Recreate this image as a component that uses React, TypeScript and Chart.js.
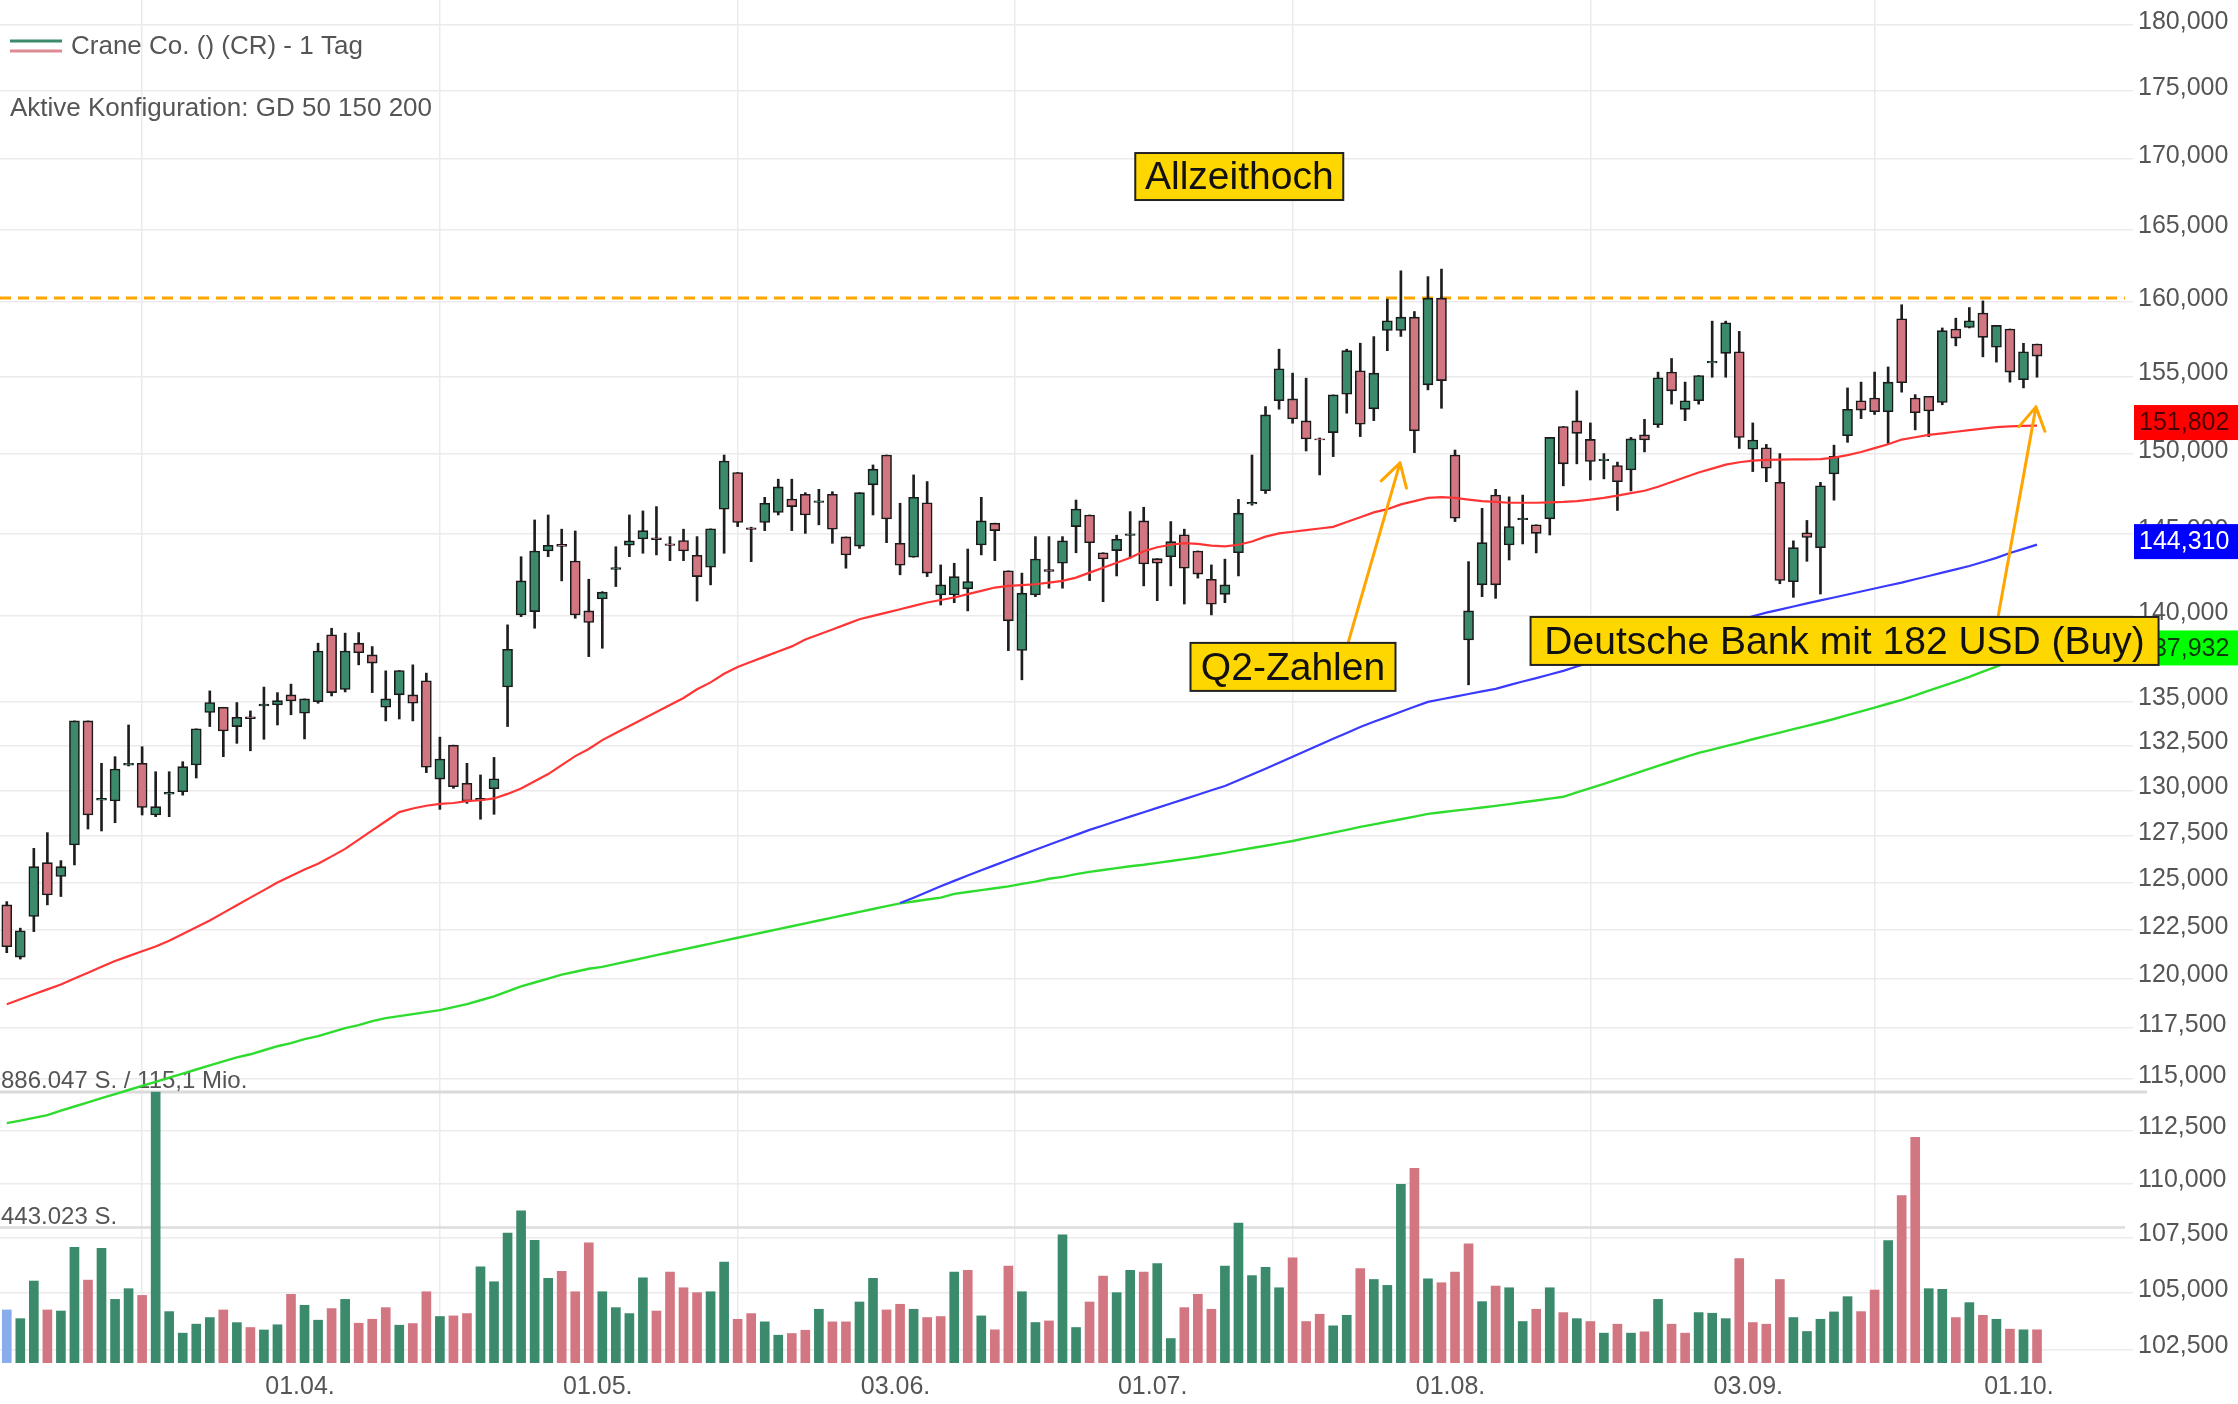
import React, { useEffect, useRef } from 'react';
import { Chart, registerables } from 'chart.js';

Chart.register(...registerables);

const FONT = '"Liberation Sans", Arial, Helvetica, sans-serif';

// ---------- DATA ----------
const opens = [
  123.82, 121.10, 123.21, 126.06, 125.32, 127.01, 133.89, 129.45, 129.41, 131.40,
  131.50, 128.64, 129.78, 129.92, 131.41, 134.37, 134.67, 133.57, 134.12, 134.75,
  134.80, 135.38, 134.33, 134.99, 138.88, 135.69, 138.39, 137.70, 134.67, 135.38,
  135.38, 136.19, 130.62, 132.52, 130.39, 129.45, 130.09, 135.84, 140.06, 140.26,
  143.92, 144.32, 143.31, 140.30, 141.01, 142.80, 144.27, 144.66, 144.72, 144.36,
  144.56, 143.66, 142.93, 146.50, 148.80, 145.35, 145.67, 146.29, 147.13, 147.43,
  146.92, 147.43, 144.78, 144.22, 148.02, 149.91, 144.39, 143.54, 146.90, 141.25,
  141.25, 141.62, 144.29, 145.63, 142.71, 137.96, 141.25, 142.78, 143.17, 145.42,
  146.14, 143.81, 143.94, 144.88, 145.77, 143.45, 143.57, 144.91, 143.92, 142.20,
  141.29, 143.81, 146.82, 147.65, 153.41, 153.53, 152.10, 150.95, 151.35, 153.84,
  155.38, 152.88, 158.06, 158.06, 158.96, 154.45, 160.25, 149.91, 138.58, 141.86,
  147.38, 144.29, 145.84, 145.53, 145.90, 151.74, 152.10, 150.91, 149.55, 149.24,
  148.96, 151.20, 151.85, 155.29, 152.85, 153.41, 155.90, 156.53, 156.64, 150.28,
  150.37, 148.18, 142.05, 145.04, 144.12, 148.71, 151.15, 153.41, 153.59, 152.70,
  158.85, 153.59, 153.70, 153.30, 158.16, 158.26, 159.24, 156.94, 158.16, 154.79,
  157.15,
];
const highs = [
  123.99, 122.60, 126.83, 127.68, 126.17, 133.89, 133.89, 131.50, 131.87, 133.66,
  132.43, 131.03, 131.03, 131.59, 133.44, 135.61, 134.67, 134.94, 134.46, 135.83,
  135.51, 136.00, 135.15, 138.39, 139.27, 138.98, 139.01, 138.19, 136.77, 136.79,
  137.12, 136.64, 132.97, 132.52, 131.50, 130.85, 131.83, 139.47, 143.57, 145.83,
  146.14, 145.26, 145.15, 142.20, 141.45, 144.18, 146.14, 146.39, 146.66, 144.80,
  145.26, 144.80, 145.28, 149.91, 148.80, 145.38, 147.24, 148.38, 148.38, 147.53,
  147.74, 147.59, 144.78, 147.53, 149.28, 149.91, 146.87, 148.65, 148.23, 143.07,
  143.17, 144.04, 147.24, 145.63, 142.71, 142.57, 144.80, 144.80, 144.80, 147.07,
  146.14, 143.81, 144.89, 146.35, 146.62, 143.45, 145.73, 145.26, 143.92, 143.07,
  143.42, 147.11, 149.91, 153.03, 156.81, 155.22, 154.89, 151.00, 153.79, 156.81,
  157.21, 157.65, 160.18, 162.12, 159.34, 161.72, 162.24, 150.23, 143.27, 146.55,
  147.74, 147.27, 147.38, 145.53, 151.04, 151.74, 154.06, 151.97, 150.00, 149.46,
  151.04, 152.20, 155.29, 156.19, 154.63, 155.06, 158.69, 158.69, 158.00, 151.97,
  150.59, 150.00, 144.54, 145.80, 148.18, 150.54, 154.25, 154.63, 155.29, 155.63,
  159.80, 153.81, 153.70, 158.23, 158.89, 159.61, 160.06, 158.40, 158.16, 157.20,
  157.15,
];
const lows = [
  121.33, 121.00, 122.42, 123.82, 124.26, 125.94, 127.88, 127.77, 128.22, 131.35,
  128.64, 128.55, 128.55, 129.73, 130.68, 133.57, 131.87, 132.62, 132.20, 132.85,
  133.66, 134.24, 132.87, 134.90, 135.32, 135.55, 137.12, 135.51, 133.89, 134.00,
  133.89, 130.98, 128.95, 130.11, 129.28, 128.41, 128.68, 133.57, 139.96, 139.27,
  143.57, 142.10, 139.86, 137.60, 138.09, 141.76, 143.57, 143.78, 143.68, 143.33,
  143.33, 140.89, 141.86, 143.78, 145.42, 143.27, 145.17, 146.14, 145.17, 145.00,
  145.53, 144.39, 142.87, 144.08, 146.14, 144.43, 142.47, 143.54, 142.36, 140.65,
  140.79, 140.30, 143.68, 143.33, 137.95, 136.25, 141.15, 141.66, 141.66, 143.81,
  142.12, 140.85, 142.40, 143.48, 141.80, 140.91, 141.80, 140.71, 142.27, 140.06,
  140.79, 142.40, 146.75, 147.48, 152.86, 151.95, 150.17, 148.65, 149.81, 152.60,
  151.09, 152.12, 156.71, 157.66, 150.06, 154.12, 152.92, 145.73, 135.96, 141.15,
  141.05, 143.37, 144.35, 143.80, 144.90, 147.96, 149.35, 148.33, 148.40, 146.42,
  147.64, 150.11, 151.68, 153.19, 152.12, 153.19, 154.95, 154.95, 150.33, 148.86,
  148.22, 141.93, 141.11, 143.29, 141.31, 147.06, 150.72, 152.25, 152.52, 150.65,
  153.97, 151.52, 151.09, 153.15, 157.03, 158.23, 156.30, 155.95, 154.63, 154.25,
  154.95,
];
const closes = [
  121.64, 122.46, 125.85, 124.34, 125.85, 133.89, 128.64, 129.55, 131.18, 131.50,
  129.05, 129.10, 129.88, 131.31, 133.44, 134.94, 133.32, 134.10, 134.02, 134.85,
  135.05, 135.03, 135.15, 137.93, 135.51, 137.93, 137.83, 137.22, 135.15, 136.79,
  134.90, 131.28, 131.74, 130.20, 129.41, 129.55, 130.64, 138.03, 142.10, 143.92,
  144.27, 144.20, 140.06, 139.61, 141.42, 142.90, 144.54, 145.17, 144.62, 144.26,
  143.92, 142.36, 145.28, 149.53, 145.67, 145.25, 146.87, 147.89, 146.66, 146.14,
  147.02, 145.26, 143.68, 147.53, 149.01, 145.89, 143.05, 147.24, 142.57, 141.86,
  142.36, 142.06, 145.77, 145.17, 139.71, 141.36, 143.43, 142.68, 144.54, 146.51,
  144.43, 143.43, 144.64, 144.98, 143.13, 143.17, 144.49, 142.87, 142.51, 140.70,
  141.86, 146.25, 146.92, 152.49, 155.51, 152.23, 150.94, 150.88, 153.79, 156.71,
  151.89, 155.22, 158.71, 158.96, 151.46, 160.25, 154.73, 145.94, 140.30, 144.43,
  141.86, 145.42, 145.94, 145.00, 151.04, 149.35, 151.30, 149.50, 149.65, 148.22,
  150.94, 150.87, 154.91, 154.06, 153.41, 155.06, 156.00, 158.58, 151.03, 150.87,
  149.07, 142.13, 144.12, 144.75, 147.96, 149.83, 152.85, 152.80, 152.70, 154.63,
  154.59, 152.63, 152.74, 158.05, 157.55, 158.71, 157.60, 158.40, 155.29, 156.64,
  156.35,
];
const volumes = [
  173500, 145000, 268000, 173500, 170000, 378000, 271000, 375000, 208000, 243000,
  221000, 886047, 168000, 97600, 127000, 148600, 173500, 132000, 116000, 108000,
  125000, 224500, 188700, 140000, 178000, 208000, 130000, 143000, 181000, 123600,
  129000, 233000, 152000, 154000, 161600, 314500, 265700, 425000, 497800, 401000,
  276500, 300000, 233000, 392600, 233000, 181000, 161600, 278700, 170000, 297000,
  246000, 230000, 233000, 329700, 143000, 161600, 134500, 91000, 96500, 107000,
  175700, 134500, 134500, 199500, 276500, 173500, 192000, 175700, 148600, 152000,
  297000, 303000, 154000, 108500, 316700, 233000, 132300, 137600, 419000, 116000,
  199500, 284000, 230000, 302600, 297000, 325000, 80000, 181000, 224500, 175700,
  316700, 457700, 286000, 313000, 246000, 343800, 135600, 159400, 121500, 156000,
  309000, 273000, 253800, 584500, 636600, 275500, 262400, 297000, 390000, 200600,
  251600, 246000, 135600, 175700, 246000, 164800, 145000, 135600, 97600, 126900,
  97600, 102000, 208000, 126900, 97600, 164800, 162700, 145000, 341600, 132300,
  126900, 273000, 148600, 103000, 143000, 167000, 216900, 168000, 238600, 400000,
  547700, 737500, 243000, 240800, 148600, 197400, 156000, 143000, 110600, 108500,
  108500,
];
// GD 50 (red)
const ma50 = [
  118.7, 118.95, 119.2, 119.45, 119.7, 120.0, 120.3, 120.6, 120.9, 121.15,
  121.4, 121.65, 121.95, 122.3, 122.65, 123.0, 123.4, 123.8, 124.2, 124.6,
  125.0, 125.35, 125.7, 126.0, 126.4, 126.8, 127.3, 127.8, 128.3, 128.8,
  129.0, 129.15, 129.25, 129.3, 129.4, 129.45, 129.55, 129.8, 130.1, 130.5,
  130.9, 131.4, 131.9, 132.3, 132.8, 133.2, 133.6, 134.0, 134.4, 134.8,
  135.2, 135.7, 136.1, 136.6, 137.0, 137.3, 137.6, 137.9, 138.2, 138.6,
  138.9, 139.2, 139.5, 139.8, 140.0, 140.2, 140.4, 140.6, 140.8, 140.95,
  141.1, 141.3, 141.5, 141.7, 141.8, 141.85, 141.9, 142.0, 142.1, 142.3,
  142.6, 142.9, 143.2, 143.5, 143.9, 144.15, 144.3, 144.4, 144.35, 144.25,
  144.2, 144.3, 144.5, 144.8, 145.0, 145.1, 145.2, 145.3, 145.4, 145.7,
  146.0, 146.3, 146.5, 146.8, 147.0, 147.2, 147.25, 147.2, 147.1, 147.0,
  146.95, 146.9, 146.9, 146.9, 146.92, 146.95, 147.0, 147.1, 147.2, 147.35,
  147.5, 147.65, 147.9, 148.2, 148.5, 148.8, 149.05, 149.3, 149.45, 149.55,
  149.6, 149.62, 149.63, 149.63, 149.65, 149.75, 149.9, 150.1, 150.35, 150.6,
  150.9, 151.05, 151.2, 151.3, 151.4, 151.5, 151.6, 151.7, 151.75, 151.78,
  151.802,
];
// GD 150 (blue)
const ma150 = [
  null, null, null, null, null, null, null, null, null, null,
  null, null, null, null, null, null, null, null, null, null,
  null, null, null, null, null, null, null, null, null, null,
  null, null, null, null, null, null, null, null, null, null,
  null, null, null, null, null, null, null, null, null, null,
  null, null, null, null, null, null, null, null, null, null,
  null, null, null, null, null, null, 123.92, 124.2, 124.5, 124.8,
  125.09, 125.37, 125.65, 125.93, 126.2, 126.48, 126.75, 127.02, 127.29, 127.56,
  127.83, 128.07, 128.31, 128.55, 128.79, 129.03, 129.27, 129.51, 129.75, 130.0,
  130.24, 130.56, 130.88, 131.2, 131.53, 131.86, 132.2, 132.54, 132.88, 133.21,
  133.55, 133.84, 134.12, 134.41, 134.7, 134.98, 135.13, 135.28, 135.43, 135.58,
  135.73, 135.94, 136.15, 136.35, 136.56, 136.77, 137.02, 137.26, 137.51, 137.75,
  138.0, 138.21, 138.42, 138.64, 138.85, 139.06, 139.29, 139.52, 139.75, 139.98,
  140.2, 140.38, 140.56, 140.75, 140.93, 141.1, 141.28, 141.46, 141.64, 141.82,
  142.0, 142.2, 142.4, 142.6, 142.8, 143.0, 143.25, 143.5, 143.8, 144.05,
  144.31,
];
// GD 200 (green)
const ma200 = [
  112.85, 112.97, 113.1, 113.23, 113.45, 113.65, 113.85, 114.05, 114.25, 114.45,
  114.65, 114.85, 115.05, 115.25, 115.45, 115.65, 115.85, 116.05, 116.2, 116.4,
  116.6, 116.75, 116.95, 117.1, 117.3, 117.5, 117.65, 117.85, 118.0, 118.1,
  118.2, 118.3, 118.4, 118.55, 118.7, 118.9, 119.1, 119.35, 119.6, 119.8,
  120.0, 120.2, 120.35, 120.5, 120.6, 120.75, 120.9, 121.05, 121.2, 121.35,
  121.5, 121.65, 121.8, 121.95, 122.1, 122.25, 122.4, 122.55, 122.7, 122.85,
  123.0, 123.15, 123.3, 123.45, 123.6, 123.75, 123.9, 124.0, 124.1, 124.2,
  124.4, 124.5, 124.6, 124.7, 124.8, 124.93, 125.05, 125.2, 125.3, 125.45,
  125.57, 125.67, 125.77, 125.87, 125.95, 126.05, 126.15, 126.25, 126.35, 126.47,
  126.59, 126.72, 126.85, 126.97, 127.1, 127.23, 127.38, 127.53, 127.68, 127.83,
  127.99, 128.13, 128.27, 128.41, 128.55, 128.7, 128.79, 128.88, 128.96, 129.05,
  129.14, 129.24, 129.34, 129.44, 129.54, 129.64, 129.88, 130.12, 130.36, 130.6,
  130.85, 131.1, 131.35, 131.6, 131.84, 132.08, 132.27, 132.46, 132.65, 132.85,
  133.04, 133.23, 133.42, 133.61, 133.8, 134.0, 134.22, 134.43, 134.65, 134.87,
  135.09, 135.35, 135.62, 135.88, 136.15, 136.42, 136.72, 137.02, 137.32, 137.62,
  137.932,
];

const tickIndex = [21, 43, 65, 84, 106, 128, 148];
const tickLabels = ['01.04.', '01.05.', '03.06.', '01.07.', '01.08.', '03.09.', '01.10.'];
const priceTicks = [180, 175, 170, 165, 160, 155, 150, 145, 140, 135, 132.5, 130, 127.5, 125, 122.5, 120, 117.5, 115, 112.5, 110, 107.5, 105, 102.5];
const athLevel = 160.25;
const volumeMax = 886047;
const volumeMid = 443023;
const volumeTopLabel = '886.047 S. / 115,1 Mio.';
const volumeMidLabel = '443.023 S.';
const titleText = 'Crane Co. () (CR) - 1 Tag';
const configText = 'Aktive Konfiguration: GD 50 150 200';

const annotations = [
  { text: 'Allzeithoch', x: 91.06, y: 168.75, w: 208, h: 47 },
  { text: 'Q2-Zahlen', x: 95.03, y: 137.0, w: 205, h: 48 },
  { text: 'Deutsche Bank mit 182 USD (Buy)', x: 135.78, y: 138.52, w: 628, h: 48 },
];
const arrows = [
  { x1: 99.1, y1: 138.41, x2: 102.94, y2: 149.41 },
  { x1: 147.12, y1: 139.94, x2: 149.92, y2: 153.01 },
];

// ---------- LAYOUT / STYLE ----------
const W = 2238;
const H = 1404;
const AXIS_W = 113;
const XAXIS_H = 41;
const PRICE_MIN = 101.91;
const PRICE_MAX = 181.9;
const VOLUME_SHARE = 271 / 1363;
const X_MIN = -0.5;
const X_MAX = 156.5;

const GREEN = '#3b8a6b';
const RED = '#d27782';
const BLUE_VOL = '#88adec';
const GRID = '#ebebeb';
const TEXT = '#555555';

const fmt = (v: number) => v.toFixed(3).replace('.', ',');

const overlayPlugin = {
  id: 'overlay',
  beforeDatasetsDraw(chart: any) {
    const { ctx, chartArea, scales } = chart;
    const yv = scales.yv;
    const ySep = yv.getPixelForValue(volumeMax);
    const yMid = yv.getPixelForValue(volumeMid);
    ctx.save();
    ctx.strokeStyle = '#dadada';
    ctx.lineWidth = 3;
    ctx.beginPath();
    ctx.moveTo(chartArea.left, ySep);
    ctx.lineTo(chartArea.right + 22, ySep);
    ctx.stroke();
    ctx.strokeStyle = '#dcdcdc';
    ctx.lineWidth = 2.5;
    ctx.beginPath();
    ctx.moveTo(chartArea.left, yMid);
    ctx.lineTo(chartArea.right, yMid);
    ctx.stroke();
    ctx.fillStyle = TEXT;
    ctx.font = `24px ${FONT}`;
    ctx.textAlign = 'left';
    ctx.textBaseline = 'alphabetic';
    ctx.fillText(volumeTopLabel, 1, ySep - 4);
    ctx.fillText(volumeMidLabel, 1, yMid - 4);
    ctx.restore();
  },
  afterDraw(chart: any) {
    const { ctx, chartArea, scales } = chart;
    const sx = (v: number) => scales.x.getPixelForValue(v);
    const sy = (v: number) => scales.y.getPixelForValue(v);
    ctx.save();

    // value tags on the price axis
    const last = closes.length - 1;
    const tags = [
      { v: ma50[last] as number, bg: '#ff0000', fg: '#4a0000' },
      { v: ma150[last] as number, bg: '#0000ff', fg: '#ffffff' },
      { v: ma200[last] as number, bg: '#00ff00', fg: '#0a3a0a' },
    ];
    ctx.font = `25px ${FONT}`;
    ctx.textAlign = 'left';
    ctx.textBaseline = 'middle';
    for (const t of tags) {
      const y = sy(t.v) - 3;
      const x0 = chartArea.right + 9;
      ctx.fillStyle = t.bg;
      ctx.fillRect(x0, y - 17.5, W - x0, 35);
      ctx.fillStyle = t.fg;
      ctx.fillText(fmt(t.v), x0 + 5, y + 1);
    }

    // arrows
    ctx.strokeStyle = '#ffa500';
    ctx.lineWidth = 3;
    ctx.lineCap = 'round';
    for (const a of arrows) {
      const x1 = sx(a.x1), y1 = sy(a.y1), x2 = sx(a.x2), y2 = sy(a.y2);
      ctx.beginPath();
      ctx.moveTo(x1, y1);
      ctx.lineTo(x2, y2);
      const ang = Math.atan2(y2 - y1, x2 - x1) + Math.PI;
      for (const s of [-1, 1]) {
        const b = ang + s * 0.53;
        ctx.moveTo(x2, y2);
        ctx.lineTo(x2 + 26 * Math.cos(b), y2 + 26 * Math.sin(b));
      }
      ctx.stroke();
    }

    // annotation boxes
    ctx.lineCap = 'butt';
    for (const a of annotations) {
      const cx = sx(a.x), cy = sy(a.y);
      ctx.fillStyle = '#ffd700';
      ctx.fillRect(cx - a.w / 2, cy - a.h / 2, a.w, a.h);
      ctx.strokeStyle = '#222';
      ctx.lineWidth = 2;
      ctx.strokeRect(cx - a.w / 2, cy - a.h / 2, a.w, a.h);
      ctx.fillStyle = '#111';
      ctx.font = `39px ${FONT}`;
      ctx.textAlign = 'center';
      ctx.textBaseline = 'middle';
      ctx.fillText(a.text, cx, cy + 2);
    }

    // header legend
    ctx.lineWidth = 3;
    ctx.strokeStyle = GREEN;
    ctx.beginPath();
    ctx.moveTo(10, 41);
    ctx.lineTo(62, 41);
    ctx.stroke();
    ctx.strokeStyle = '#dd8c96';
    ctx.beginPath();
    ctx.moveTo(10, 51);
    ctx.lineTo(62, 51);
    ctx.stroke();
    ctx.fillStyle = TEXT;
    ctx.font = `26px ${FONT}`;
    ctx.textAlign = 'left';
    ctx.textBaseline = 'alphabetic';
    ctx.fillText(titleText, 71, 54);
    ctx.fillText(configText, 10, 116);
    ctx.restore();
  },
};

export default function App() {
  const ref = useRef<HTMLCanvasElement>(null);

  useEffect(() => {
    const canvas = ref.current;
    if (!canvas) return;
    const idx = closes.map((_, i) => i);
    const bodyColors = idx.map((i) => (closes[i] >= opens[i] ? GREEN : RED));
    const volColors = idx.map((i) => (i === 0 ? BLUE_VOL : closes[i] >= closes[i - 1] ? GREEN : RED));

    const chart = new Chart(canvas, {
      type: 'bar',
      data: {
        datasets: [
          {
            type: 'line',
            label: 'GD 50',
            data: idx.map((i) => ({ x: i, y: ma50[i] })),
            borderColor: '#ff3535',
            borderWidth: 2.2,
            pointRadius: 0,
            yAxisID: 'y',
            order: 1,
          } as any,
          {
            type: 'line',
            label: 'GD 150',
            data: idx.map((i) => ({ x: i, y: ma150[i] })),
            borderColor: '#3a3aff',
            borderWidth: 2.2,
            pointRadius: 0,
            spanGaps: false,
            yAxisID: 'y',
            order: 2,
          } as any,
          {
            type: 'line',
            label: 'GD 200',
            data: idx.map((i) => ({ x: i, y: ma200[i] })),
            borderColor: '#2edc2e',
            borderWidth: 2.4,
            pointRadius: 0,
            yAxisID: 'y',
            order: 3,
          } as any,
          {
            type: 'bar',
            label: 'body',
            data: idx.map((i) => ({ x: i, y: [opens[i], closes[i]] })),
            backgroundColor: bodyColors,
            borderColor: '#1a1a1a',
            borderWidth: 1.6,
            borderSkipped: false,
            barThickness: 10,
            grouped: false,
            yAxisID: 'y',
            order: 7,
          } as any,
          {
            type: 'bar',
            label: 'wick',
            data: idx.map((i) => ({ x: i, y: [lows[i], highs[i]] })),
            backgroundColor: '#1e1e1e',
            borderWidth: 0,
            barThickness: 2,
            grouped: false,
            yAxisID: 'y',
            order: 8,
          } as any,
          {
            type: 'line',
            label: 'ATH',
            data: [
              { x: X_MIN, y: athLevel },
              { x: X_MAX, y: athLevel },
            ],
            borderColor: '#ffa500',
            borderWidth: 3,
            borderDash: [11, 7],
            pointRadius: 0,
            yAxisID: 'y',
            order: 9,
          } as any,
          {
            type: 'bar',
            label: 'volume',
            data: idx.map((i) => ({ x: i, y: volumes[i] })),
            backgroundColor: volColors,
            borderWidth: 0,
            barThickness: 9,
            grouped: false,
            yAxisID: 'yv',
            order: 10,
          } as any,
        ],
      },
      options: {
        animation: false,
        responsive: false,
        maintainAspectRatio: false,
        devicePixelRatio: 1,
        layout: { padding: 0 },
        events: [],
        plugins: {
          legend: { display: false },
          tooltip: { enabled: false },
          title: { display: false },
        },
        scales: {
          x: {
            type: 'linear',
            position: 'bottom',
            min: X_MIN,
            max: X_MAX,
            offset: false,
            border: { display: false },
            grid: { color: GRID, lineWidth: 1.5, drawTicks: false },
            ticks: {
              autoSkip: false,
              maxRotation: 0,
              padding: 9,
              labelOffset: 9,
              color: TEXT,
              font: { family: FONT, size: 25 },
              callback: (v: any) => {
                const k = tickIndex.indexOf(Number(v));
                return k >= 0 ? tickLabels[k] : '';
              },
            },
            afterBuildTicks: (s: any) => {
              s.ticks = tickIndex.map((v) => ({ value: v }));
            },
            afterFit: (s: any) => {
              s.height = XAXIS_H;
              s.paddingLeft = 0;
              s.paddingRight = 0;
            },
          },
          y: {
            type: 'logarithmic',
            position: 'right',
            min: PRICE_MIN,
            max: PRICE_MAX,
            bounds: 'data',
            border: { display: false },
            grid: { color: GRID, lineWidth: 1.5, drawTicks: true, tickLength: 8, tickColor: GRID },
            ticks: {
              padding: 5,
              labelOffset: -3,
              color: TEXT,
              font: { family: FONT, size: 25 },
              callback: (v: any) => fmt(Number(v)),
            },
            afterBuildTicks: (s: any) => {
              s.ticks = priceTicks.map((v) => ({ value: v }));
            },
            afterFit: (s: any) => {
              s.width = AXIS_W;
              s.paddingTop = 0;
              s.paddingBottom = 0;
            },
          },
          yv: {
            type: 'linear',
            display: false,
            min: 0,
            max: volumeMax / VOLUME_SHARE,
          },
        },
      } as any,
      plugins: [overlayPlugin as any],
    });
    return () => chart.destroy();
  }, []);

  return (
    <div style={{ position: 'absolute', left: 0, top: 0, width: W, height: H, background: '#ffffff' }}>
      <canvas ref={ref} width={W} height={H} style={{ display: 'block', width: W, height: H }} />
    </div>
  );
}
